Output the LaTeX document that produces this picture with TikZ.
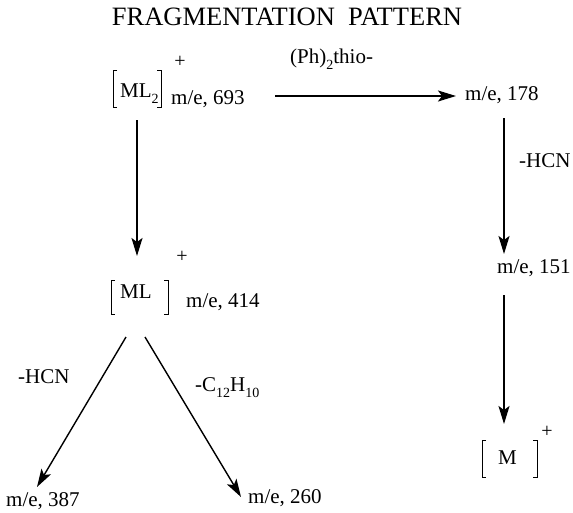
\documentclass[tikz,border=0pt]{standalone}
\usepackage{fontspec}
\setmainfont{Liberation Serif}
\usetikzlibrary{arrows.meta}
\newcommand{\sbs}[1]{\raisebox{-0.3em}{\fontsize{14}{14}\selectfont #1}}
\begin{document}
\begin{tikzpicture}[x=1pt,y=-1pt,
  lab/.style={font=\fontsize{21}{24}\selectfont, inner sep=0pt, anchor=base west},
  plus/.style={font=\fontsize{20}{20}\selectfont, inner sep=0pt},
  arr/.style={line width=1.8pt, -{Stealth[length=18pt,width=11pt,inset=4pt]}},
  brk/.style={line width=0.9pt}]
\useasboundingbox[fill=white] (0,0) rectangle (573,512);
\node[font=\fontsize{26.5}{28}\selectfont, inner sep=0pt] (title) at (287,17) {FRAGMENTATION\ \ PATTERN};

% ML2
\node[lab] (ml2) at (120,97) {ML\sbs{2}};
\node[plus] (p1) at (180,62) {+};
\draw[brk] (117,70) -- (113,70) -- (113,107) -- (117,107);
\draw[brk] (157,70) -- (161,70) -- (161,107) -- (157,107);
\node[lab] (m693) at (171,104) {m/e, 693};

% ML
\node[lab] (ml) at (120,298) {ML};
\node[plus] (p2) at (182,257) {+};
\draw[brk] (115,280) -- (111,280) -- (111,314) -- (115,314);
\draw[brk] (164,280) -- (168,280) -- (168,314) -- (164,314);
\node[lab] (m414) at (186,307) {m/e, 414};

% right column
\node[lab] (ph) at (290,63) {(Ph)\sbs{2}thio-};
\node[lab] (m178) at (465,100) {m/e, 178};
\node[lab] (hcn1) at (519,167) {-HCN};
\node[lab] (m151) at (497,273) {m/e, 151};
\node[lab] (mm) at (498,464) {M};
\node[plus] (p3) at (547,432) {+};
\draw[brk] (486,440) -- (482,440) -- (482,477) -- (486,477);
\draw[brk] (533,440) -- (537,440) -- (537,477) -- (533,477);

% bottom left
\node[lab] (hcn2) at (18,383) {-HCN};
\node[lab] (c12) at (195,391) {-C\sbs{12}H\sbs{10}};
\node[lab] (m387) at (6,506) {m/e, 387};
\node[lab] (m260) at (248,503) {m/e, 260};

% connector end points
\coordinate (a1s) at (275,96);  \coordinate (a1e) at (456,96);
\coordinate (a2s) at (137,120); \coordinate (a2e) at (137,256);
\coordinate (a3s) at (504,118); \coordinate (a3e) at (504,254);
\coordinate (a4s) at (504,295); \coordinate (a4e) at (504,424);
\coordinate (a5s) at (126,337); \coordinate (a5e) at (37,487);
\coordinate (a6s) at (145,337); \coordinate (a6e) at (241,497);

\draw[arr] (a1s) -- (a1e);
\draw[arr] (a2s) -- (a2e);
\draw[arr] (a3s) -- (a3e);
\draw[arr] (a4s) -- (a4e);
\draw[arr, line width=1.4pt] (a5s) -- (a5e);
\draw[arr, line width=1.4pt] (a6s) -- (a6e);
\end{tikzpicture}
\end{document}
